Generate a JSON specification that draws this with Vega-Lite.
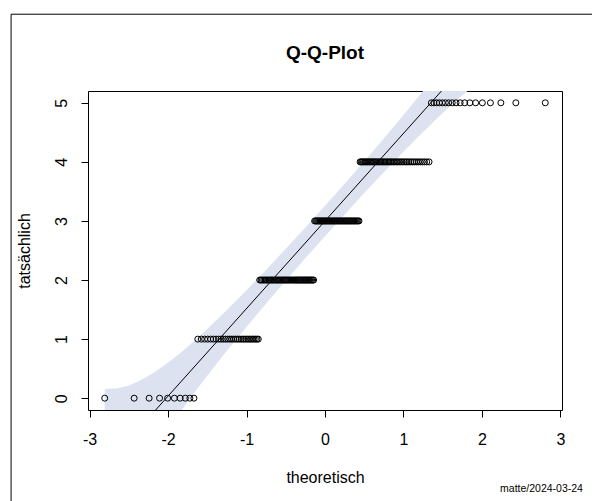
{
  "$schema": "https://vega.github.io/schema/vega-lite/v6.json",
  "width": 474,
  "height": 319,
  "autosize": "none",
  "padding": {"left": 88, "top": 91, "right": 30, "bottom": 91},
  "background": "white",
  "config": {"view": {"stroke": "black", "strokeWidth": 1}, "font": "Liberation Sans"},
  "datasets": {
    "punkte": [
      {"q": -2.807, "v": 0}, {"q": -2.432, "v": 0}, {"q": -2.241, "v": 0}, {"q": -2.108, "v": 0}, {"q": -2.005, "v": 0},
      {"q": -1.919, "v": 0}, {"q": -1.846, "v": 0}, {"q": -1.780, "v": 0}, {"q": -1.722, "v": 0}, {"q": -1.670, "v": 0},
      {"q": -1.621, "v": 1}, {"q": -1.576, "v": 1}, {"q": -1.534, "v": 1}, {"q": -1.495, "v": 1}, {"q": -1.457, "v": 1},
      {"q": -1.422, "v": 1}, {"q": -1.388, "v": 1}, {"q": -1.356, "v": 1}, {"q": -1.326, "v": 1}, {"q": -1.296, "v": 1},
      {"q": -1.268, "v": 1}, {"q": -1.240, "v": 1}, {"q": -1.213, "v": 1}, {"q": -1.188, "v": 1}, {"q": -1.163, "v": 1},
      {"q": -1.138, "v": 1}, {"q": -1.115, "v": 1}, {"q": -1.092, "v": 1}, {"q": -1.069, "v": 1}, {"q": -1.047, "v": 1},
      {"q": -1.026, "v": 1}, {"q": -1.005, "v": 1}, {"q": -0.984, "v": 1}, {"q": -0.964, "v": 1}, {"q": -0.944, "v": 1},
      {"q": -0.925, "v": 1}, {"q": -0.906, "v": 1}, {"q": -0.887, "v": 1}, {"q": -0.868, "v": 1}, {"q": -0.850, "v": 1},
      {"q": -0.832, "v": 2}, {"q": -0.815, "v": 2}, {"q": -0.798, "v": 2}, {"q": -0.780, "v": 2}, {"q": -0.764, "v": 2},
      {"q": -0.747, "v": 2}, {"q": -0.731, "v": 2}, {"q": -0.714, "v": 2}, {"q": -0.698, "v": 2}, {"q": -0.683, "v": 2},
      {"q": -0.667, "v": 2}, {"q": -0.651, "v": 2}, {"q": -0.636, "v": 2}, {"q": -0.620, "v": 2}, {"q": -0.605, "v": 2},
      {"q": -0.590, "v": 2}, {"q": -0.576, "v": 2}, {"q": -0.561, "v": 2}, {"q": -0.546, "v": 2}, {"q": -0.532, "v": 2},
      {"q": -0.517, "v": 2}, {"q": -0.503, "v": 2}, {"q": -0.489, "v": 2}, {"q": -0.475, "v": 2}, {"q": -0.461, "v": 2},
      {"q": -0.447, "v": 2}, {"q": -0.433, "v": 2}, {"q": -0.420, "v": 2}, {"q": -0.406, "v": 2}, {"q": -0.392, "v": 2},
      {"q": -0.379, "v": 2}, {"q": -0.366, "v": 2}, {"q": -0.352, "v": 2}, {"q": -0.339, "v": 2}, {"q": -0.326, "v": 2},
      {"q": -0.313, "v": 2}, {"q": -0.300, "v": 2}, {"q": -0.286, "v": 2}, {"q": -0.273, "v": 2}, {"q": -0.260, "v": 2},
      {"q": -0.248, "v": 2}, {"q": -0.235, "v": 2}, {"q": -0.222, "v": 2}, {"q": -0.209, "v": 2}, {"q": -0.196, "v": 2},
      {"q": -0.184, "v": 2}, {"q": -0.171, "v": 2}, {"q": -0.157, "v": 2}, {"q": -0.145, "v": 2},
      {"q": -0.132, "v": 3}, {"q": -0.119, "v": 3}, {"q": -0.107, "v": 3}, {"q": -0.094, "v": 3}, {"q": -0.082, "v": 3},
      {"q": -0.069, "v": 3}, {"q": -0.056, "v": 3}, {"q": -0.044, "v": 3}, {"q": -0.031, "v": 3}, {"q": -0.019, "v": 3},
      {"q": -0.006, "v": 3}, {"q": 0.006, "v": 3}, {"q": 0.019, "v": 3}, {"q": 0.031, "v": 3}, {"q": 0.044, "v": 3},
      {"q": 0.056, "v": 3}, {"q": 0.069, "v": 3}, {"q": 0.082, "v": 3}, {"q": 0.094, "v": 3}, {"q": 0.107, "v": 3},
      {"q": 0.119, "v": 3}, {"q": 0.132, "v": 3}, {"q": 0.145, "v": 3}, {"q": 0.157, "v": 3}, {"q": 0.171, "v": 3},
      {"q": 0.184, "v": 3}, {"q": 0.196, "v": 3}, {"q": 0.209, "v": 3}, {"q": 0.222, "v": 3}, {"q": 0.235, "v": 3},
      {"q": 0.248, "v": 3}, {"q": 0.260, "v": 3}, {"q": 0.273, "v": 3}, {"q": 0.286, "v": 3}, {"q": 0.300, "v": 3},
      {"q": 0.313, "v": 3}, {"q": 0.326, "v": 3}, {"q": 0.339, "v": 3}, {"q": 0.352, "v": 3}, {"q": 0.366, "v": 3},
      {"q": 0.379, "v": 3}, {"q": 0.392, "v": 3}, {"q": 0.406, "v": 3}, {"q": 0.420, "v": 3}, {"q": 0.433, "v": 3},
      {"q": 0.447, "v": 4}, {"q": 0.461, "v": 4}, {"q": 0.475, "v": 4}, {"q": 0.489, "v": 4}, {"q": 0.503, "v": 4},
      {"q": 0.517, "v": 4}, {"q": 0.532, "v": 4}, {"q": 0.546, "v": 4}, {"q": 0.561, "v": 4}, {"q": 0.576, "v": 4},
      {"q": 0.590, "v": 4}, {"q": 0.605, "v": 4}, {"q": 0.620, "v": 4}, {"q": 0.636, "v": 4}, {"q": 0.651, "v": 4},
      {"q": 0.667, "v": 4}, {"q": 0.683, "v": 4}, {"q": 0.698, "v": 4}, {"q": 0.714, "v": 4}, {"q": 0.731, "v": 4},
      {"q": 0.747, "v": 4}, {"q": 0.764, "v": 4}, {"q": 0.780, "v": 4}, {"q": 0.798, "v": 4}, {"q": 0.815, "v": 4},
      {"q": 0.832, "v": 4}, {"q": 0.850, "v": 4}, {"q": 0.868, "v": 4}, {"q": 0.887, "v": 4}, {"q": 0.906, "v": 4},
      {"q": 0.925, "v": 4}, {"q": 0.944, "v": 4}, {"q": 0.964, "v": 4}, {"q": 0.984, "v": 4}, {"q": 1.005, "v": 4},
      {"q": 1.026, "v": 4}, {"q": 1.047, "v": 4}, {"q": 1.069, "v": 4}, {"q": 1.092, "v": 4}, {"q": 1.115, "v": 4},
      {"q": 1.138, "v": 4}, {"q": 1.163, "v": 4}, {"q": 1.188, "v": 4}, {"q": 1.213, "v": 4}, {"q": 1.240, "v": 4},
      {"q": 1.268, "v": 4}, {"q": 1.296, "v": 4}, {"q": 1.326, "v": 4},
      {"q": 1.356, "v": 5}, {"q": 1.388, "v": 5}, {"q": 1.422, "v": 5}, {"q": 1.457, "v": 5}, {"q": 1.495, "v": 5},
      {"q": 1.534, "v": 5}, {"q": 1.576, "v": 5}, {"q": 1.621, "v": 5}, {"q": 1.670, "v": 5}, {"q": 1.722, "v": 5},
      {"q": 1.780, "v": 5}, {"q": 1.846, "v": 5}, {"q": 1.919, "v": 5}, {"q": 2.005, "v": 5}, {"q": 2.108, "v": 5},
      {"q": 2.241, "v": 5}, {"q": 2.432, "v": 5}, {"q": 2.807, "v": 5}
    ],
    "band": [
      {"q": -2.807, "lo": -2.484, "hi": 0.161},
      {"q": -2.65, "lo": -2.021, "hi": 0.163},
      {"q": -2.5, "lo": -1.627, "hi": 0.214},
      {"q": -2.375, "lo": -1.327, "hi": 0.285},
      {"q": -2.25, "lo": -1.047, "hi": 0.375},
      {"q": -2.125, "lo": -0.783, "hi": 0.482},
      {"q": -2.0, "lo": -0.533, "hi": 0.602},
      {"q": -1.875, "lo": -0.293, "hi": 0.733},
      {"q": -1.75, "lo": -0.062, "hi": 0.872},
      {"q": -1.625, "lo": 0.162, "hi": 1.019},
      {"q": -1.5, "lo": 0.380, "hi": 1.172},
      {"q": -1.25, "lo": 0.801, "hi": 1.492},
      {"q": -1.0, "lo": 1.207, "hi": 1.828},
      {"q": -0.75, "lo": 1.603, "hi": 2.174},
      {"q": -0.5, "lo": 1.989, "hi": 2.528},
      {"q": -0.25, "lo": 2.369, "hi": 2.890},
      {"q": 0.0, "lo": 2.743, "hi": 3.258},
      {"q": 0.25, "lo": 3.110, "hi": 3.631},
      {"q": 0.5, "lo": 3.472, "hi": 4.011},
      {"q": 0.75, "lo": 3.826, "hi": 4.398},
      {"q": 1.0, "lo": 4.172, "hi": 4.793},
      {"q": 1.25, "lo": 4.508, "hi": 5.199},
      {"q": 1.5, "lo": 4.828, "hi": 5.620},
      {"q": 1.625, "lo": 4.981, "hi": 5.838},
      {"q": 1.75, "lo": 5.128, "hi": 6.062},
      {"q": 1.875, "lo": 5.267, "hi": 6.293},
      {"q": 2.0, "lo": 5.398, "hi": 6.533},
      {"q": 2.125, "lo": 5.518, "hi": 6.783},
      {"q": 2.25, "lo": 5.625, "hi": 7.047},
      {"q": 2.5, "lo": 5.786, "hi": 7.627},
      {"q": 2.807, "lo": 5.839, "hi": 8.484}
    ],
    "linie": [
      {"q": -2.5, "v": -0.7065},
      {"q": 1.7, "v": 5.5204}
    ]
  },
  "layer": [
    {
      "data": {"values": [{}]},
      "mark": {"type": "rect", "fillOpacity": 0, "stroke": "black", "strokeWidth": 1, "clip": false},
      "encoding": {
        "x": {"datum": -4.0, "type": "quantitative", "scale": {"domain": [-3.02, 3.02], "nice": false, "zero": false}},
        "x2": {"datum": 5.0},
        "y": {"datum": 6.5, "type": "quantitative", "scale": {"domain": [-0.2, 5.2], "nice": false, "zero": false}},
        "y2": {"datum": -3.0}
      }
    },
    {
      "data": {"name": "band"},
      "mark": {"type": "area", "color": "#dce2ef", "opacity": 1, "clip": true},
      "encoding": {
        "x": {"field": "q", "type": "quantitative", "scale": {"domain": [-3.02, 3.02], "nice": false, "zero": false}},
        "y": {"field": "lo", "type": "quantitative", "scale": {"domain": [-0.2, 5.2], "nice": false, "zero": false}},
        "y2": {"field": "hi"}
      }
    },
    {
      "data": {"name": "linie"},
      "mark": {"type": "line", "color": "black", "strokeWidth": 1, "clip": true},
      "encoding": {
        "x": {"field": "q", "type": "quantitative", "scale": {"domain": [-3.02, 3.02], "nice": false, "zero": false}},
        "y": {"field": "v", "type": "quantitative", "scale": {"domain": [-0.2, 5.2], "nice": false, "zero": false}}
      }
    },
    {
      "data": {"name": "punkte"},
      "mark": {"type": "point", "shape": "circle", "filled": false, "stroke": "black", "strokeWidth": 1, "size": 36, "opacity": 1},
      "encoding": {
        "x": {
          "field": "q", "type": "quantitative",
          "scale": {"domain": [-3.02, 3.02], "nice": false, "zero": false},
          "axis": {
            "values": [-3, -2, -1, 0, 1, 2, 3],
            "labelExpr": "toString(datum.value)",
            "grid": false, "domain": false,
            "tickSize": 7, "tickColor": "black", "tickWidth": 1,
            "labelFont": "Liberation Sans", "labelFontSize": 16, "labelColor": "black",
            "labelPadding": 14, "labelBaseline": "top", "labelFlush": false, "labelOverlap": false,
            "title": "theoretisch", "titleFont": "Liberation Sans", "titleFontSize": 16,
            "titleFontWeight": "normal", "titleColor": "black", "titlePadding": 22
          }
        },
        "y": {
          "field": "v", "type": "quantitative",
          "scale": {"domain": [-0.2, 5.2], "nice": false, "zero": false},
          "axis": {
            "values": [0, 1, 2, 3, 4, 5],
            "labelExpr": "toString(datum.value)",
            "grid": false, "domain": false,
            "tickSize": 7, "tickColor": "black", "tickWidth": 1,
            "labelFont": "Liberation Sans", "labelFontSize": 16, "labelColor": "black",
            "labelAngle": 270, "labelAlign": "center", "labelBaseline": "alphabetic",
            "labelPadding": 15, "labelFlush": false, "labelOverlap": false,
            "title": "tatsächlich", "titleFont": "Liberation Sans", "titleFontSize": 16,
            "titleFontWeight": "normal", "titleColor": "black", "titlePadding": 21
          }
        }
      }
    },
    {
      "data": {"values": [{}]},
      "mark": {"type": "text", "text": "Q-Q-Plot", "font": "Liberation Sans", "fontSize": 19, "fontWeight": "bold", "color": "black", "align": "center", "baseline": "alphabetic", "clip": false},
      "encoding": {
        "x": {"datum": 0, "type": "quantitative", "scale": {"domain": [-3.02, 3.02], "nice": false, "zero": false}},
        "y": {"datum": 5.742, "type": "quantitative", "scale": {"domain": [-0.2, 5.2], "nice": false, "zero": false}}
      }
    },
    {
      "data": {"values": [{}]},
      "mark": {"type": "text", "text": "matte/2024-03-24", "font": "Liberation Sans", "fontSize": 10.5, "color": "black", "align": "right", "baseline": "alphabetic", "clip": false},
      "encoding": {
        "x": {"datum": 3.287, "type": "quantitative", "scale": {"domain": [-3.02, 3.02], "nice": false, "zero": false}},
        "y": {"datum": -1.589, "type": "quantitative", "scale": {"domain": [-0.2, 5.2], "nice": false, "zero": false}}
      }
    }
  ]
}
